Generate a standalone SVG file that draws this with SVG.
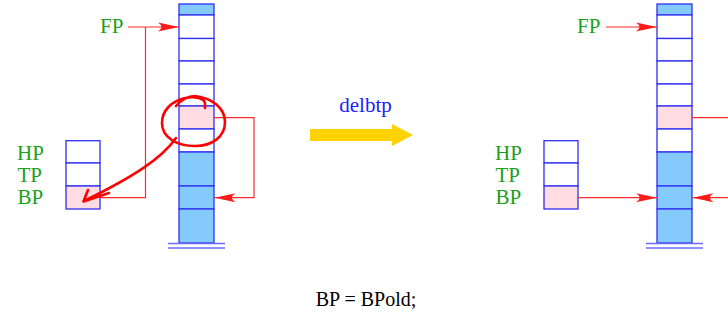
<svg xmlns="http://www.w3.org/2000/svg" width="728" height="321" viewBox="0 0 728 321">
<style>
.lbl{font-family:"Liberation Serif","DejaVu Serif",serif;font-size:21px;fill:#1aa01a}
.cell{stroke:#3030f0;stroke-width:1.3}
.w{fill:#ffffff}.b{fill:#84cbfb}.p{fill:#ffdde2}
.gnd{stroke:#6a6aff;stroke-width:1.5}
.red{stroke:#ff2a2a;stroke-width:1.2;fill:none}
.hand{stroke:#ff0000;stroke-width:2.6;fill:none;stroke-linecap:round;stroke-linejoin:round}
</style>
<defs>
<marker id="ah" markerUnits="userSpaceOnUse" markerWidth="22" markerHeight="10" viewBox="0 0 22 10" refX="21" refY="5" orient="auto">
<path d="M21,5 L0,0.5 Q7,5 0,9.5 Z" fill="#ff1a1a"/>
</marker>
</defs>
<rect width="728" height="321" fill="#ffffff"/>

<g id="stack-left">
<rect class="cell b" x="179" y="4" width="35" height="11"/>
<rect class="cell w" x="179" y="15" width="35" height="23.5"/>
<rect class="cell w" x="179" y="38.5" width="35" height="22.5"/>
<rect class="cell w" x="179" y="61" width="35" height="23"/>
<rect class="cell w" x="179" y="84" width="35" height="22"/>
<rect class="cell p" x="179" y="106" width="35" height="23"/>
<rect class="cell w" x="179" y="129" width="35" height="23"/>
<rect class="cell b" x="179" y="152" width="35" height="34"/>
<rect class="cell b" x="179" y="186" width="35" height="23"/>
<rect class="cell b" x="179" y="209" width="35" height="34"/>
<line class="gnd" x1="168" y1="243.5" x2="225" y2="243.5"/>
<line class="gnd" x1="168" y1="248" x2="225" y2="248"/>
</g>

<g id="regs-left">
<rect class="cell w" x="66" y="140.7" width="34" height="22.3"/>
<rect class="cell w" x="66" y="163" width="34" height="23"/>
<rect class="cell p" x="66" y="186" width="34" height="23"/>
<text class="lbl" x="17" y="160">HP</text>
<text class="lbl" x="17.5" y="182">TP</text>
<text class="lbl" x="17.5" y="204">BP</text>
</g>
<text class="lbl" x="100" y="33">FP</text>

<g id="stack-right">
<rect class="cell b" x="657" y="4" width="35" height="11"/>
<rect class="cell w" x="657" y="15" width="35" height="23.5"/>
<rect class="cell w" x="657" y="38.5" width="35" height="22.5"/>
<rect class="cell w" x="657" y="61" width="35" height="23"/>
<rect class="cell w" x="657" y="84" width="35" height="22"/>
<rect class="cell p" x="657" y="106" width="35" height="23"/>
<rect class="cell w" x="657" y="129" width="35" height="23"/>
<rect class="cell b" x="657" y="152" width="35" height="34"/>
<rect class="cell b" x="657" y="186" width="35" height="23"/>
<rect class="cell b" x="657" y="209" width="35" height="34"/>
<line class="gnd" x1="646" y1="243.5" x2="703" y2="243.5"/>
<line class="gnd" x1="646" y1="248" x2="703" y2="248"/>
</g>

<g id="regs-right">
<rect class="cell w" x="544" y="140.7" width="34" height="22.3"/>
<rect class="cell w" x="544" y="163" width="34" height="23"/>
<rect class="cell p" x="544" y="186" width="34" height="23"/>
<text class="lbl" x="495" y="160">HP</text>
<text class="lbl" x="495.5" y="182">TP</text>
<text class="lbl" x="495.5" y="204">BP</text>
</g>
<text class="lbl" x="577" y="33">FP</text>

<g id="connectors">
<line class="red" x1="128" y1="27" x2="179" y2="27" marker-end="url(#ah)"/>
<polyline class="red" points="145.5,27 145.5,197.7 100,197.7"/>
<polyline class="red" points="214,117.7 254,117.7 254,197.7 214.5,197.7" marker-end="url(#ah)"/>
<line class="red" x1="606" y1="27" x2="657" y2="27" marker-end="url(#ah)"/>
<line class="red" x1="578" y1="197.7" x2="657" y2="197.7" marker-end="url(#ah)"/>
<line class="red" x1="692" y1="117.7" x2="728" y2="117.7"/>
<line class="red" x1="740" y1="197.7" x2="692.5" y2="197.7" marker-end="url(#ah)"/>
<path class="hand" d="M176,106 C182,99 188,96 195,96 C212,98 225,108 225,122 C225,137 212,146 195,146 C176,146 162,137 162,123 C162,110 172,101 185,98 C195,96 204,98 205,103 L205,108"/>
<path class="hand" d="M176,138 C162,158 135,176 84,201"/>
<path class="hand" d="M88,190 L83.5,201.5 L109,193"/>
</g>

<g id="transition">
<path d="M310,129 L392,129 L392,124 L413,135 L392,146 L392,141 L310,141 Z" fill="#ffd200"/>
<text x="365.5" y="112" text-anchor="middle" style="font-family:'Liberation Serif','DejaVu Serif',serif;font-size:21px;fill:#2020ff">delbtp</text>
</g>

<text x="366" y="306" text-anchor="middle" style="font-family:'Liberation Serif','DejaVu Serif',serif;font-size:20px;fill:#000000">BP = BPold;</text>
</svg>
